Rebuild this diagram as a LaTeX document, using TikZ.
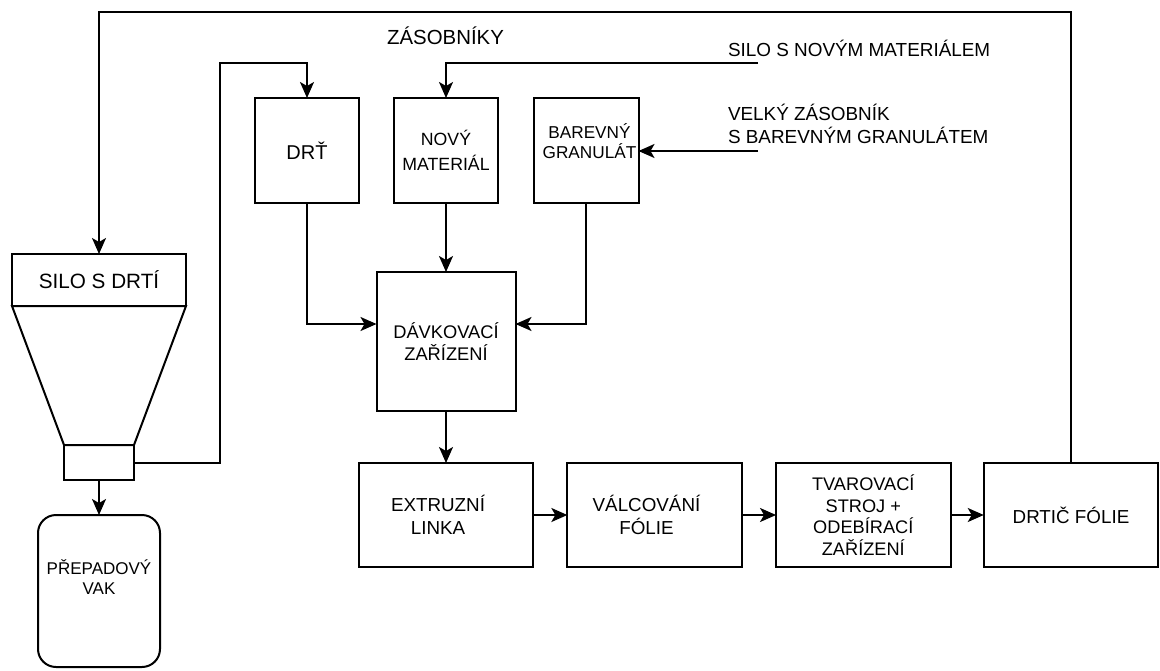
\documentclass[tikz,border=0pt]{standalone}
\usepackage{fontspec}
\setmainfont{Liberation Sans}
\usetikzlibrary{arrows.meta}
\newcommand{\fs}[2]{\fontsize{#1}{#2}\selectfont}
\begin{document}
\begin{tikzpicture}[x=1pt,y=-1pt,
  line width=2pt,
  box/.style={draw, line width=2pt, rectangle, inner sep=0pt, outer sep=0pt, align=center,
    font=\fs{18.8}{23.5}},
  txt/.style={inner sep=0pt, outer sep=0pt, align=center,
    font=\fs{18.8}{23.5}},
  arr/.style={-{Stealth[length=16pt,width=14pt,inset=4pt]}},
  ln/.style={line join=miter}]
\useasboundingbox[fill=white] (0,0) rectangle (1160,670);

% silo
\node[box, minimum width=174pt, minimum height=52pt,
  font=\fs{20.7}{24}] (silo) at (99,280) {SILO S DRTÍ};
\draw[ln] (12,306) -- (186,306) -- (134,445) -- (64,445) -- cycle;
\node[box, minimum width=70pt, minimum height=35pt] (out) at (99,462.5) {};
\node[box, rounded corners=18pt, minimum width=122pt, minimum height=152pt] (vak) at (99,591) {};
\node[txt, font=\fs{17}{19.5}] (vakt) at (99,577) {PŘEPADOVÝ\\VAK};

% hoppers
\node[txt, font=\fs{20.4}{24}] (zas) at (445.5,36) {ZÁSOBNÍKY};
\node[box, minimum width=104pt, minimum height=105pt,
  font=\fs{20}{24}] (drt) at (307,150.5) {DRŤ};
\node[box, minimum width=104pt, minimum height=105pt,
  font=\fs{17.7}{25}] (novy) at (446,150.5) {NOVÝ\\MATERIÁL};
\node[box, minimum width=105pt, minimum height=105pt] (barev) at (586,150.5) {};
\node[txt, font=\fs{17.2}{20}] (barevt) at (589.5,141) {BAREVNÝ\\GRANULÁT};

\node[box, minimum width=139pt, minimum height=139pt, font=\fs{18.3}{21.7}] (davk) at (446,341.5) {DÁVKOVACÍ\\ZAŘÍZENÍ};

% bottom row
\node[box, minimum width=174.5pt, minimum height=104pt] (ext) at (446,515) {};
\node[txt] (extt) at (438,515) {EXTRUZNÍ\\LINKA};
\node[box, minimum width=174.5pt, minimum height=104pt] (valc) at (654.6,515) {};
\node[txt] (valct) at (646.5,515) {VÁLCOVÁNÍ\\FÓLIE};
\node[box, minimum width=174.5pt, minimum height=104pt, font=\fs{18.2}{21.7}] (tvar) at (863.3,515) {TVAROVACÍ\\STROJ +\\ODEBÍRACÍ\\ZAŘÍZENÍ};
\node[box, minimum width=174.5pt, minimum height=104pt] (drtic) at (1071,515) {DRTIČ FÓLIE};

% right labels
\node[txt, anchor=west, font=\fs{18.9}{23}] (silonov) at (728,48) {SILO S NOVÝM MATERIÁLEM};
\node[txt, anchor=west, align=left, font=\fs{18.9}{23}] (velky) at (728,124) {VELKÝ ZÁSOBNÍK\\S BAREVNÝM GRANULÁTEM};

\coordinate (in1) at (758,63);
\coordinate (in2) at (758,151);
\coordinate (topy) at (0,12);
\coordinate (bend) at (220,63);

% connectors
\draw[arr, ln] (in1) -- (novy.north |- in1) -- (novy.north);
\draw[arr] (in2) -- (barev.east |- in2);
\draw[arr, ln] (drt.south) |- ([yshift=17.5pt]davk.west);
\draw[arr, ln] (barev.south) |- ([yshift=17.5pt]davk.east);
\draw[arr] (novy.south) -- (novy.south |- davk.north);
\draw[arr] (davk.south) -- (davk.south |- ext.north);
\draw[arr] (ext.east) -- (valc.west);
\draw[arr] (valc.east) -- (tvar.west);
\draw[arr] (tvar.east) -- (drtic.west);
\draw[arr, ln] (drtic.north) -- (drtic.north |- topy) -- (silo.north |- topy) -- (silo.north);
\draw[arr] (out.south) -- (vak.north);
\draw[arr, ln] (out.east) -- (bend |- out.east) -- (bend) -- (drt.north |- bend) -- (drt.north);
\end{tikzpicture}
\end{document}
